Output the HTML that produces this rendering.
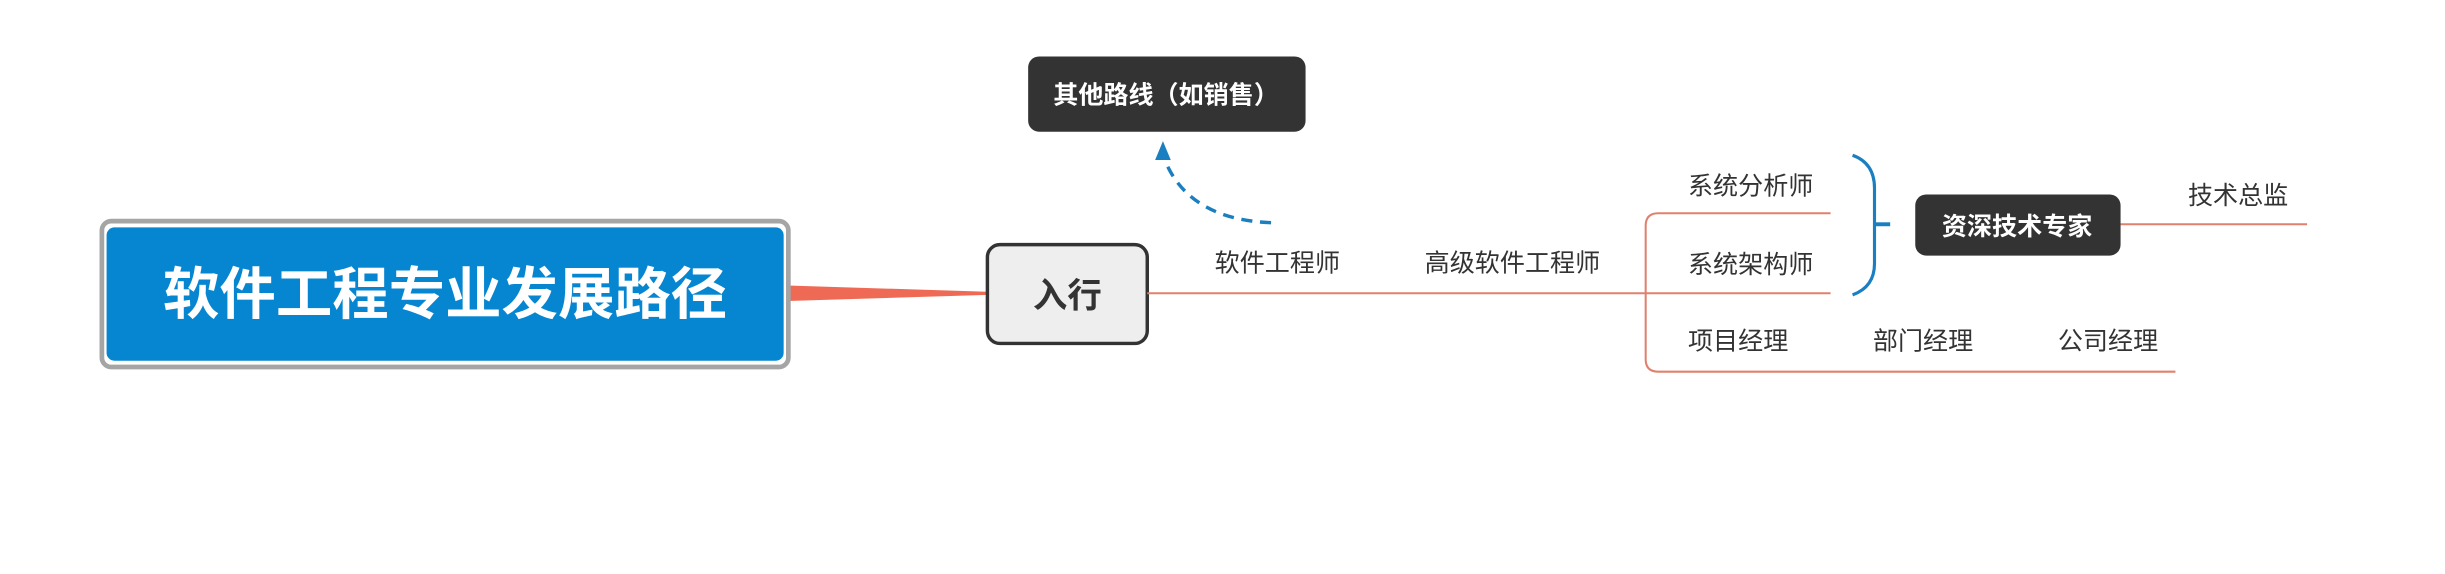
<!DOCTYPE html>
<html><head><meta charset="utf-8"><style>
html,body{margin:0;padding:0;background:#fff;}
svg{display:block;}
text{font-family:"Liberation Sans","Noto Sans CJK SC",sans-serif;}
</style></head><body>
<svg width="2445" height="574" viewBox="0 0 1560 366" preserveAspectRatio="none" xmlns="http://www.w3.org/2000/svg">
<rect width="1560" height="366" fill="#fff"/>
<!-- main tapered connector -->
<polygon points="500,182 630,186 630,188 500,192" fill="#ef6a55"/>
<!-- main box -->
<rect x="65" y="141" width="438" height="93" rx="6" fill="#fff" stroke="#a5a5a5" stroke-width="3"/>
<rect x="68" y="145" width="432" height="85" rx="5" fill="#0686d0"/>
<text x="284" y="200" text-anchor="middle" font-size="36" font-weight="bold" fill="#fff">软件工程专业发展路径</text>
<!-- 入行 -->
<rect x="630" y="156" width="102" height="63" rx="8" fill="#eeeeee" stroke="#333" stroke-width="2.2"/>
<text x="681" y="196" text-anchor="middle" font-size="22" font-weight="bold" fill="#333">入行</text>
<!-- coral lines -->
<g stroke="#e0806f" stroke-width="1.3" fill="none">
<line x1="732" y1="187" x2="1168" y2="187"/>
<path d="M1168,136 H1058 Q1050,136 1050,144 V229 Q1050,237 1058,237 H1388"/>
<line x1="1353" y1="143" x2="1472" y2="143"/>
</g>
<g font-size="16" fill="#333">
<text x="775" y="173">软件工程师</text>
<text x="909" y="173">高级软件工程师</text>
<text x="1077" y="124">系统分析师</text>
<text x="1077" y="174">系统架构师</text>
<text x="1077" y="223">项目经理</text>
<text x="1195" y="223">部门经理</text>
<text x="1313" y="223">公司经理</text>
<text x="1396" y="130">技术总监</text>
</g>
<!-- bracket -->
<path d="M1182,99 Q1196,104 1196,120 V168 Q1196,183 1182,188" stroke="#1a7fc0" stroke-width="2" fill="none"/>
<line x1="1196" y1="143" x2="1206" y2="143" stroke="#1a7fc0" stroke-width="2.5"/>
<!-- 资深技术专家 -->
<rect x="1222" y="124" width="131" height="39" rx="7" fill="#333"/>
<text x="1287" y="150" text-anchor="middle" font-size="16" font-weight="bold" fill="#fff">资深技术专家</text>
<!-- 其他路线 -->
<rect x="656" y="36" width="177" height="48" rx="7" fill="#333"/>
<text x="744" y="66" text-anchor="middle" font-size="16" font-weight="bold" fill="#fff">其他路线（如销售）</text>
<!-- dashed arrow -->
<path d="M811,142 Q760,140 744,104" stroke="#1a7fc0" stroke-width="2.2" fill="none" stroke-dasharray="7,5"/>
<polygon points="742,90 737,102 747,102" fill="#1a7fc0"/>
</svg>
</body></html>
